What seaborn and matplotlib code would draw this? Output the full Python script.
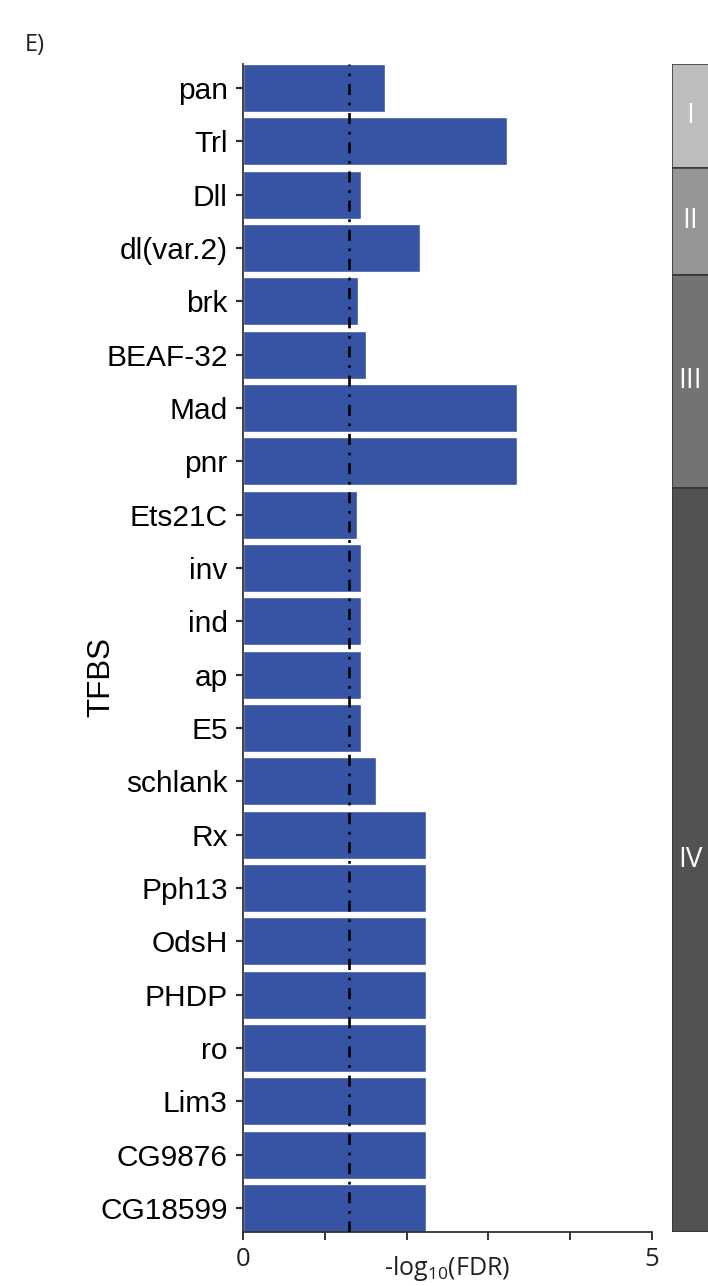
import matplotlib
matplotlib.use("Agg")
import matplotlib.pyplot as plt
import seaborn as sns
import pandas as pd
import numpy as np

# Enriched transcription factor binding sites, top to bottom
tfbs = ["pan", "Trl", "Dll", "dl(var.2)", "brk", "BEAF-32", "Mad", "pnr",
        "Ets21C", "inv", "ind", "ap", "E5", "schlank", "Rx", "Pph13",
        "OdsH", "PHDP", "ro", "Lim3", "CG9876", "CG18599"]
neg_log_fdr = [1.74, 3.23, 1.44, 2.16, 1.41, 1.50, 3.35, 3.35,
               1.39, 1.44, 1.44, 1.44, 1.44, 1.63, 2.24, 2.24,
               2.24, 2.24, 2.24, 2.24, 2.24, 2.24]

# Cluster groups shown in the side strip
groups = ["I", "II", "III", "IV"]
group_sizes = [2, 2, 4, 14]
group_colors = ["#bdbdbd", "#969696", "#737373", "#525252"]

fdr_cutoff = 0.05
xticks = [0, 1, 2, 3, 4, 5]
xtick_labels = ["0", "", "", "", "", "5"]

sns.set_theme(style="white")
plt.rcParams["font.family"] = ["Liberation Sans", "DejaVu Sans"]
plt.rcParams["mathtext.default"] = "regular"
plt.rcParams["lines.scale_dashes"] = False

W, H, DPI = 708, 1286, 100
fig = plt.figure(figsize=(W / DPI, H / DPI), dpi=DPI)

left, right, top, bottom = 243, 652, 64, 1232
ax = fig.add_axes([left / W, 1 - bottom / H, (right - left) / W, (bottom - top) / H])

df = pd.DataFrame({"TFBS": tfbs, "score": neg_log_fdr})
bar_w = 0.9
sns.barplot(data=df, x="score", y="TFBS", orient="h", color="#3753a4",
            saturation=1, width=bar_w, ax=ax)

n = len(tfbs)
ax.set_ylim(n - 1 + bar_w / 2, -bar_w / 2)
ax.set_xlim(0, 5)

ax.axvline(-np.log10(fdr_cutoff), color="black", lw=1.9,
           linestyle=(0, (8, 5.5, 2, 5.5)), zorder=5)

for s in ["top", "right"]:
    ax.spines[s].set_visible(False)
for s in ["left", "bottom"]:
    ax.spines[s].set_color("#333333")
    ax.spines[s].set_linewidth(1.3)

ax.tick_params(axis="y", left=True, length=5, width=1.6, color="#333333",
               pad=6, labelsize=21.5, labelcolor="black")
ax.set_xticks(xticks)
ax.set_xticklabels(xtick_labels, fontfamily="Open Sans", fontsize=18.5)
ax.tick_params(axis="x", bottom=True, length=5.5, width=1.4, color="#333333",
               pad=5, labelcolor="#222222")

ax.set_ylabel("TFBS", fontsize=22.5, color="black")
ax.yaxis.set_label_coords(-0.31, 0.475)
ax.set_xlabel("-log$_{\\mathregular{10}}$(FDR)", fontfamily="Open Sans",
              fontsize=18, color="#222222")
ax.xaxis.set_label_coords(0.5, -0.019)

# Side strip marking the cluster groups
ax2 = fig.add_axes([672 / W, 1 - bottom / H, 0.06, (bottom - top) / H], sharey=ax)
edges = np.concatenate([[-bar_w / 2], np.cumsum(group_sizes)[:-1] - 0.5,
                        [n - 1 + bar_w / 2]])
centers = (edges[:-1] + edges[1:]) / 2
heights = edges[1:] - edges[:-1]
ax2.barh(centers, [1] * len(groups), height=heights, left=0,
         color=group_colors, edgecolor="#333333", linewidth=1.1)
ax2.set_xlim(0, 1)
ax2.axis("off")
for g, c in zip(groups, centers):
    ax2.annotate(g, xy=(0, c), xycoords=("axes fraction", "data"),
                 xytext=(18, 0), textcoords="offset pixels",
                 ha="center", va="center", color="white",
                 fontfamily="Open Sans", fontsize=20)

fig.text(25 / W, 1 - 45 / H, "E)", fontfamily="Open Sans", fontsize=17,
         color="#222222", va="center", ha="left")

fig.savefig("out.png", dpi=DPI)
